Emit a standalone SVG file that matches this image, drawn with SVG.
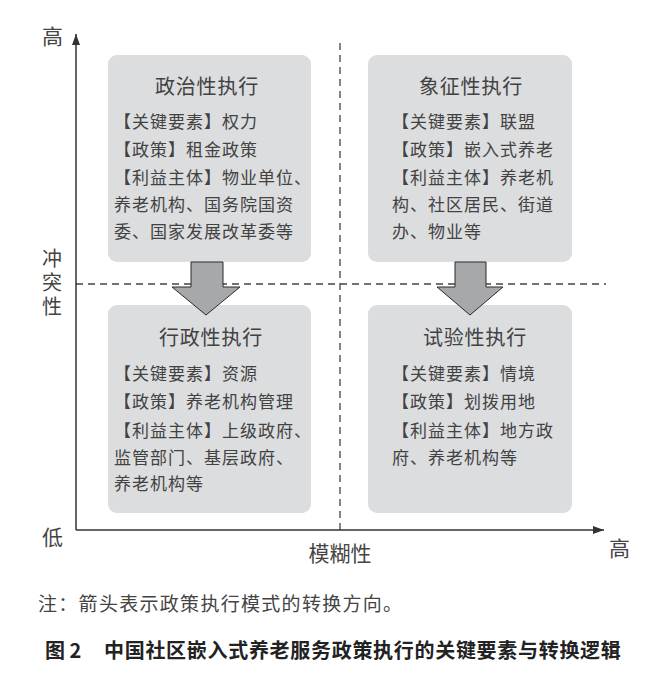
<svg xmlns="http://www.w3.org/2000/svg" width="670" height="688" viewBox="0 0 670 688">
<style>
text{font-family:"Noto Sans CJK SC","Noto Sans",sans-serif;fill:#424242}
.box{fill:#dcdddf}
.title{font-size:20px;text-anchor:middle;letter-spacing:0.8px}
.body{font-size:17px;letter-spacing:1px}
.axis{stroke:#333;stroke-width:1.5;fill:none}
.dash{stroke:#444;stroke-width:1.3;stroke-dasharray:7 5;fill:none}
.blk{fill:#a7a8aa;stroke:#2a2a2a;stroke-width:1}
.lab{font-size:21px;fill:#444}
</style>
<defs>
<marker id="ah" markerWidth="12" markerHeight="10" refX="11" refY="5" orient="auto" markerUnits="userSpaceOnUse">
<path d="M0,1 L11,5 L0,9 Z" fill="#333"/>
</marker>
</defs>
<rect width="670" height="688" fill="#fff"/>
<g id="connectors">
<line class="dash" x1="340" y1="43" x2="340" y2="530"/>
<line class="dash" x1="76" y1="284" x2="606" y2="284"/>
<line class="axis" x1="76" y1="530" x2="76" y2="34" marker-end="url(#ah)"/>
<line class="axis" x1="76" y1="530" x2="604" y2="530" marker-end="url(#ah)"/>
</g>
<g id="axis-labels">
<text class="lab" x="42" y="44">高</text>
<text class="lab" x="52" y="248" writing-mode="vertical-rl" style="font-size:20px;letter-spacing:4px">冲突性</text>
<text class="lab" x="42" y="545">低</text>
<text class="lab" x="340" y="561" text-anchor="middle">模糊性</text>
<text class="lab" x="609" y="556">高</text>
</g>
<g id="political">
<rect class="box" x="108" y="55" width="203" height="207" rx="9"/>
<text class="title" x="207" y="94">政治性执行</text>
<text class="body" x="114" y="128">【关键要素】权力</text>
<text class="body" x="114" y="156">【政策】租金政策</text>
<text class="body" x="114" y="184">【利益主体】物业单位、</text>
<text class="body" x="114" y="211">养老机构、国务院国资</text>
<text class="body" x="114" y="238">委、国家发展改革委等</text>
</g>
<g id="symbolic">
<rect class="box" x="368" y="55" width="204" height="207" rx="9"/>
<text class="title" x="471" y="94">象征性执行</text>
<text class="body" x="392" y="128">【关键要素】联盟</text>
<text class="body" x="392" y="156">【政策】嵌入式养老</text>
<text class="body" x="392" y="184">【利益主体】养老机</text>
<text class="body" x="392" y="211">构、社区居民、街道</text>
<text class="body" x="392" y="238">办、物业等</text>
</g>
<g id="administrative">
<rect class="box" x="108" y="305" width="203" height="208" rx="9"/>
<text class="title" x="211" y="345">行政性执行</text>
<text class="body" x="114" y="380">【关键要素】资源</text>
<text class="body" x="114" y="408">【政策】养老机构管理</text>
<text class="body" x="114" y="437">【利益主体】上级政府、</text>
<text class="body" x="114" y="464">监管部门、基层政府、</text>
<text class="body" x="114" y="490">养老机构等</text>
</g>
<g id="experimental">
<rect class="box" x="368" y="305" width="204" height="208" rx="9"/>
<text class="title" x="475" y="345">试验性执行</text>
<text class="body" x="392" y="380">【关键要素】情境</text>
<text class="body" x="392" y="408">【政策】划拨用地</text>
<text class="body" x="392" y="437">【利益主体】地方政</text>
<text class="body" x="392" y="464">府、养老机构等</text>
</g>
<g id="transition-arrows">
<path class="blk" d="M191,262 H223 V287 H240 L206,315 L172,287 H191 Z"/>
<path class="blk" d="M455,262 H486 V287 H503 L470,315 L437,287 H455 Z"/>
</g>
<g id="notes">
<text x="38" y="611" style="font-size:19px;letter-spacing:1.3px;fill:#444">注：箭头表示政策执行模式的转换方向。</text>
<text x="45" y="658" style="font-size:20px;font-weight:bold;fill:#222">图 2</text>
<text x="104" y="658" style="font-size:20px;font-weight:bold;letter-spacing:0.7px;fill:#222">中国社区嵌入式养老服务政策执行的关键要素与转换逻辑</text>
</g>
</svg>
